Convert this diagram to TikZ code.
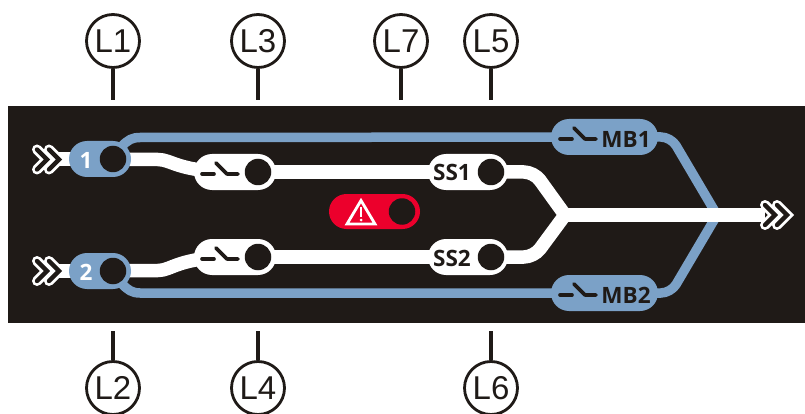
\documentclass[tikz,border=0pt]{standalone}
\usepackage{fontspec}
\setmainfont{Liberation Sans}
\newfontfamily\pillfont{Open Sans}[BoldFont={Open Sans Bold}]
\usetikzlibrary{shapes.misc}
\definecolor{panel}{HTML}{1F1A17}
\definecolor{steel}{HTML}{7BA1C7}
\definecolor{alarm}{HTML}{EC002C}
\pgfdeclarelayer{panellayer}
\pgfdeclarelayer{wirelayer}
\pgfsetlayers{panellayer,wirelayer,main}
\tikzset{
  callout/.style={circle,draw=panel,line width=2.8pt,fill=white,minimum size=53pt,inner sep=0pt,font=\fontsize{33}{33}\selectfont,text=panel},
  tick/.style={draw=panel,line width=4pt},
  pill/.style={rounded rectangle,minimum height=36pt,inner sep=0pt,draw=none},
  lamp/.style={circle,fill=panel,minimum size=26.5pt,inner sep=0pt,draw=none},
  whitewire/.style={draw=white,line width=13.5pt,line join=round},
  bluewire/.style={draw=steel,line width=9.5pt,line join=round},
  pilltext/.style={font=\pillfont\bfseries\fontsize{22.5}{22.5}\selectfont,inner sep=0pt},
  swicon/.style={draw=#1,line width=3.6pt,line cap=round,line join=round},
  chevout/.style={draw=white,line width=10pt,line join=miter,line cap=round},
  chevin/.style={draw=panel,line width=4.4pt,line join=miter,line cap=round},
}
\newcommand{\switchicon}[3]{%
  \draw[swicon=#3] (#1,#2) -- ++(12,0);
  \draw[swicon=#3] (#1+14,#2-11) -- ++(11,11) -- ++(11,0);
}
\newcommand{\chevrons}[2]{%
  \foreach \dx in {12,0}{
    \draw[chevout] (#1+\dx,#2-10) -- ++(10,10) -- ++(-10,10);
    \draw[chevin]  (#1+\dx,#2-10) -- ++(10,10) -- ++(-10,10);
  }
}
\begin{document}
\begin{tikzpicture}[x=1pt,y=-1pt]
\useasboundingbox (0,0) rectangle (805,414);
\begin{pgfonlayer}{panellayer}
  \fill[panel] (8,106) rectangle (805,322.5);
\end{pgfonlayer}

% callouts
\node[callout] (L1) at (113,41) {L1};
\node[callout] (L3) at (258,41) {L3};
\node[callout] (L7) at (401,41) {L7};
\node[callout] (L5) at (491,41) {L5};
\node[callout] (L2) at (113,388) {L2};
\node[callout] (L4) at (258,388) {L4};
\node[callout] (L6) at (491,388) {L6};
\coordinate (t1) at (113,100);
\coordinate (t3) at (258,100);
\coordinate (t7) at (401,100);
\coordinate (t5) at (491,100);
\coordinate (t2) at (113,331);
\coordinate (t4) at (258,331);
\coordinate (t6) at (491,331);
\foreach \a/\b in {L1/t1,L3/t3,L7/t7,L5/t5,L2/t2,L4/t4,L6/t6}
  \draw[tick] (\a) -- (\b);

% pills
\node[pill,fill=steel,minimum width=62pt] (P1) at (100,159) {};
\node[pill,fill=steel,minimum width=62pt] (P2) at (100,271) {};
\node[pill,fill=white,minimum width=82pt] (S1) at (235,172) {};
\node[pill,fill=white,minimum width=82pt] (S2) at (235,257) {};
\node[pill,fill=white,minimum width=80pt] (SS1) at (468,172) {};
\node[pill,fill=white,minimum width=80pt] (SS2) at (468,257) {};
\node[pill,fill=steel,minimum width=107pt] (MB1) at (604.5,137) {};
\node[pill,fill=steel,minimum width=107pt] (MB2) at (604.5,293) {};
\node[pill,fill=alarm,minimum width=91pt,minimum height=35pt] (W) at (374.5,211.5) {};

% lamps
\node[lamp] (l1) at (113,159) {};
\node[lamp] (l2) at (113,271) {};
\node[lamp] (l3) at (258,172) {};
\node[lamp] (l4) at (258,257) {};
\node[lamp] (l5) at (491,172) {};
\node[lamp] (l6) at (491,257) {};
\node[lamp] (l7) at (402,211.5) {};

% coordinates
\coordinate (inA) at (50,159);
\coordinate (inB) at (50,271);
\coordinate (a1) at (158,159.5);
\coordinate (a2) at (158,270.5);
\coordinate (b1) at (140,137.5);
\coordinate (b2) at (140,293);
\coordinate (j) at (565,215);
\coordinate (k1) at (534,172);
\coordinate (k2) at (534,257);
\coordinate (out) at (765,215);
\coordinate (m1) at (671,137);
\coordinate (m2) at (671,293);
\coordinate (mj) at (717,215);

\begin{pgfonlayer}{wirelayer}
  % blue bypass
  \draw[bluewire] (122,146) .. controls (128,140) and (132,137.5) .. (b1) -- (MB1.center);
  \draw[bluewire] (122,284) .. controls (128,290) and (132,293) .. (b2) -- (MB2.center);
  \draw[bluewire,rounded corners=10pt] (MB1.center) -- (m1) -- (mj);
  \draw[bluewire,rounded corners=10pt] (MB2.center) -- (m2) -- (mj);
  % white main
  \draw[whitewire] (inA) -- (P1.center);
  \draw[whitewire] (inB) -- (P2.center);
  \draw[whitewire] (P1.center) -- (a1) .. controls (172,159.5) and (178,172) .. (S1.center);
  \draw[whitewire] (P2.center) -- (a2) .. controls (172,270.5) and (178,257) .. (S2.center);
  \draw[whitewire] (S1.center) -- (SS1.center);
  \draw[whitewire] (S2.center) -- (SS2.center);
  \draw[whitewire,rounded corners=10pt] (SS1.center) -- (k1) -- (j);
  \draw[whitewire,rounded corners=10pt] (SS2.center) -- (k2) -- (j);
  \draw[whitewire] (j) -- (out);
\end{pgfonlayer}

% chevrons
\chevrons{37}{159.5}
\chevrons{765}{215}
\chevrons{37}{271}

% switch symbols
\switchicon{202}{174}{panel}
\switchicon{202}{259}{panel}
\switchicon{560}{139}{panel}
\switchicon{560}{295}{panel}

% texts
\node[pilltext,text=white] (t1a) at (86,160.5) {1};
\node[pilltext,text=white] (t2a) at (86,272.5) {2};
\node[pilltext,text=panel] (tss1) at (452,172.5) {SS1};
\node[pilltext,text=panel] (tss2) at (452,258) {SS2};
\node[pilltext,text=panel] (tmb1) at (626,139) {MB1};
\node[pilltext,text=panel] (tmb2) at (626,295) {MB2};

% warning triangle
\draw[white,line width=2.8pt,line join=miter] (361,200.5) -- (375,224) -- (347,224) -- cycle;
\draw[white,line width=2.8pt] (361,207) -- (361,216.5);
\fill[white] (361,220) circle (1.5);
\end{tikzpicture}
\end{document}
